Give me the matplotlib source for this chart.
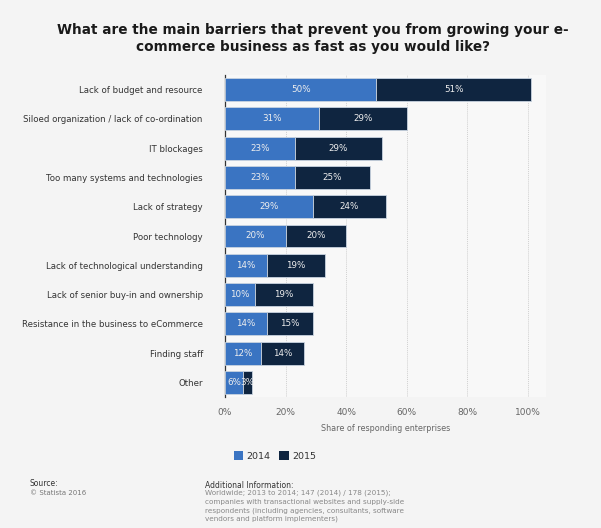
import matplotlib
matplotlib.use("Agg")
import matplotlib.pyplot as plt
import numpy as np
from matplotlib.patches import Patch

categories = ["Lack of budget and resource", "Siloed organization / lack of co-ordination",
              "IT blockages", "Too many systems and technologies", "Lack of strategy",
              "Poor technology", "Lack of technological understanding",
              "Lack of senior buy-in and ownership", "Resistance in the business to eCommerce",
              "Finding staff", "Other"]
v2014 = [50, 31, 23, 23, 29, 20, 14, 10, 14, 12, 6]
v2015 = [51, 29, 29, 25, 24, 20, 19, 19, 15, 14, 3]
xticks = [0, 20, 40, 60, 80, 100]

c14 = "#3a74c2"
c15 = "#0f2540"

fig = plt.figure(figsize=(6.01, 5.28), dpi=100)
fig.patch.set_facecolor("#f4f4f4")
ax = fig.add_axes([225/601, 1-397/528, (546-225)/601, (397-75)/528])
ax.set_facecolor("#f8f8f8")

y = np.arange(len(categories))
ax.barh(y, v2014, height=0.78, color=c14, edgecolor="#c8d3e0", linewidth=0.6, zorder=3)
ax.barh(y, v2015, left=v2014, height=0.78, color=c15, edgecolor="#c8d3e0", linewidth=0.6, zorder=3)
for i in range(len(categories)):
    ax.text(v2014[i]/2, y[i], f"{v2014[i]}%", ha="center", va="center", color="#eeeeee", fontsize=6.3, zorder=4)
    ax.text(v2014[i] + v2015[i]/2, y[i], f"{v2015[i]}%", ha="center", va="center", color="#eeeeee", fontsize=6.3, zorder=4)

ax.set_ylim(len(categories) - 0.5, -0.5)
ax.set_xlim(0, 106)
ax.set_yticks(y)
ax.set_yticklabels(categories, fontsize=6.2, color="#333333")
ax.set_xticks(xticks)
ax.set_xticklabels([f"{t}%" for t in xticks], fontsize=6.5, color="#666666")
ax.tick_params(length=0, pad=8)
ax.tick_params(axis="y", pad=16)
ax.grid(axis="x", color="#d0d0d0", linestyle=(0, (1, 1)), linewidth=0.7, zorder=0)
for s in ["top", "right", "bottom"]:
    ax.spines[s].set_visible(False)
ax.spines["left"].set_color("#333333")
ax.spines["left"].set_linewidth(0.9)
ax.set_xlabel("Share of responding enterprises", fontsize=5.8, color="#666666", labelpad=5)

fig.text(0.52, 1-38.5/528, "What are the main barriers that prevent you from growing your e-\ncommerce business as fast as you would like?",
         ha="center", va="center", fontsize=9.8, fontweight="bold", color="#1a1a1a", linespacing=1.3)

handles = [Patch(facecolor=c14, label="2014"), Patch(facecolor=c15, label="2015")]
fig.legend(handles=handles, loc="center", bbox_to_anchor=(275/601, 1-456/528), ncol=2, frameon=False,
           fontsize=6.8, handlelength=1.0, handleheight=1.0, columnspacing=0.9, handletextpad=0.4,
           labelcolor="#333333")

fig.text(30/601, 1-484/528, "Source:", fontsize=5.5, color="#333333", va="center")
fig.text(30/601, 1-493/528, "© Statista 2016", fontsize=5, color="#777777", va="center")
fig.text(205/601, 1-485/528, "Additional Information:", fontsize=5.5, color="#333333", va="center")
fig.text(205/601, 1-490/528, "Worldwide; 2013 to 2014; 147 (2014) / 178 (2015);\ncompanies with transactional websites and supply-side\nrespondents (including agencies, consultants, software\nvendors and platform implementers)",
         fontsize=5.2, color="#888888", va="top", linespacing=1.45)

fig.savefig("out.png", dpi=100, facecolor=fig.get_facecolor())
